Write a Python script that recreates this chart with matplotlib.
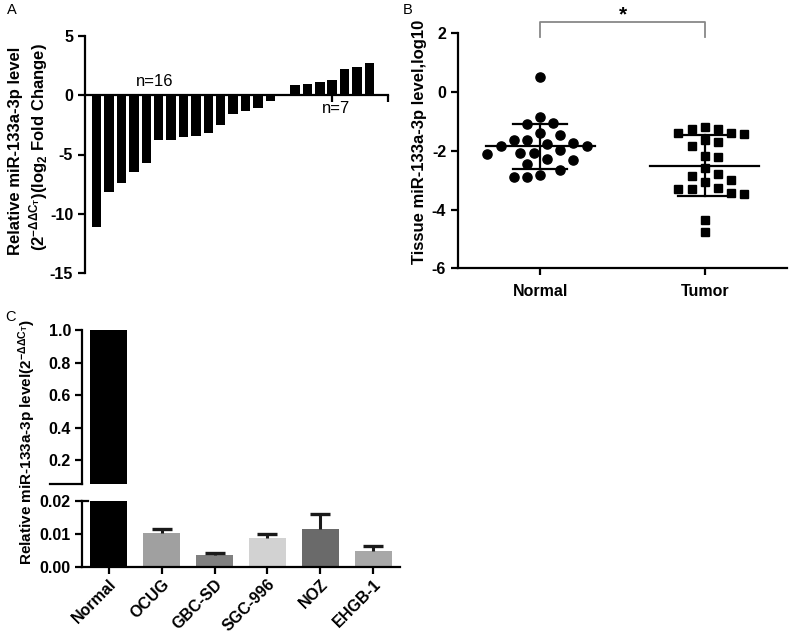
import numpy as np
import matplotlib
matplotlib.use("Agg")
import matplotlib.pyplot as plt

plt.rcParams['font.family'] = ['Liberation Sans', 'DejaVu Sans']
plt.rcParams['mathtext.fontset'] = 'custom'
plt.rcParams['mathtext.rm'] = 'Liberation Sans:bold'
plt.rcParams['mathtext.it'] = 'Liberation Sans:bold'
plt.rcParams['mathtext.bf'] = 'Liberation Sans:bold'
plt.rcParams['mathtext.default'] = 'rm'

# ---------------- data ----------------
# Panel A: log2 fold change per patient (sorted)
fold_change = [-11.1, -8.2, -7.4, -6.5, -5.7, -3.8, -3.8, -3.5, -3.4, -3.2,
               -2.5, -1.55, -1.3, -1.1, -0.5, -0.1,
               0.85, 0.95, 1.15, 1.25, 2.25, 2.4, 2.75]
a_yticks = [-15, -10, -5, 0, 5]

# Panel B: tissue levels (log10)
b_groups = ['Normal', 'Tumor']
normal_vals = [0.50, -0.86, -1.06, -1.09, -1.46, -1.38, -1.63, -1.63, -1.77, -1.83,
               -1.83, -1.72, -1.97, -2.06, -2.12, -2.06, -2.29, -2.33, -2.45, -2.65,
               -2.82, -2.90, -2.88]
tumor_vals = [-1.20, -1.27, -1.38, -1.43, -1.38, -1.25, -1.69, -1.63, -1.83, -2.17,
              -2.20, -2.60, -2.85, -2.79, -3.05, -3.01, -3.31, -3.44, -3.46, -3.31,
              -3.27, -4.35, -4.78]
b_yticks = [-6, -4, -2, 0, 2]

# Panel C: cell lines
c_labels = ['Normal', 'OCUG', 'GBC-SD', 'SGC-996', 'NOZ', 'EHGB-1']
c_values = [1.0, 0.0102, 0.0034, 0.0086, 0.0115, 0.0048]
c_errors = [0.0, 0.0011, 0.0008, 0.0013, 0.0045, 0.0016]
c_colors = ['#000000', '#a0a0a0', '#808080', '#d2d2d2', '#6a6a6a', '#a8a8a8']
c_upper_ticks = [0.2, 0.4, 0.6, 0.8, 1.0]
c_lower_ticks = [0.00, 0.01, 0.02]

W, H = 790, 635
fig = plt.figure(figsize=(W / 100, H / 100), dpi=100)


def rect(l, t, r, b):
    return [l / W, 1 - b / H, (r - l) / W, (b - t) / H]


def style(ax, fs=11.5, pad=3.5):
    for s in ['top', 'right']:
        ax.spines[s].set_visible(False)
    for s in ['left', 'bottom']:
        ax.spines[s].set_linewidth(1.6)
    ax.tick_params(width=1.6, length=5, labelsize=fs, direction='out', pad=pad)
    for lab in ax.get_yticklabels() + ax.get_xticklabels():
        lab.set_fontweight('bold')


LW = 1.6

# ---------------- Panel A ----------------
axA = fig.add_axes(rect(85, 36, 388, 273))
xa = np.arange(len(fold_change))
axA.bar(xa, fold_change, width=0.76, color='black')
axA.set_xlim(-0.94, 23.5)
axA.set_ylim(-15, 5)
axA.spines['bottom'].set_position(('data', 0))
axA.set_yticks(a_yticks)
axA.set_yticklabels([str(v) for v in a_yticks])
axA.set_xticks([19, 23.5])
axA.set_xticklabels(['', ''])
style(axA)
axA.text(4.7, 1.2, 'n=16', fontsize=12, ha='center', va='center')
axA.text(19.3, -1.1, 'n=7', fontsize=12, ha='center', va='center')
fig.text(16 / W, 1 - 151 / H, 'Relative miR-133a-3p level', rotation=90,
         ha='center', va='center', fontsize=12, fontweight='bold')
fig.text(39 / W, 1 - 147 / H, r'(2$^{-\Delta\Delta C_T}$)(log$_2$ Fold Change)', rotation=90,
         ha='center', va='center', fontsize=12, fontweight='bold')
fig.text(7 / W, 1 - 10 / H, 'A', fontsize=10.5, ha='left', va='center')

# ---------------- Panel B ----------------
axB = fig.add_axes(rect(458, 33.3, 787, 268.3))
axB.set_xlim(-0.5, 1.5)
axB.set_ylim(-6, 2)

XS, YS = 164.0, 29.4  # px per data unit


def swarm(vals, step=6.6, mind=12.5):
    vals = np.asarray(vals)
    order = np.argsort(-vals)
    placed = []
    offs = np.zeros(len(vals))
    cands = [0.0]
    for k in range(1, 20):
        cands += [k * step, -k * step]
    for i in order:
        y = vals[i] * YS
        for c in cands:
            if all((c - px) ** 2 + (y - py) ** 2 >= mind ** 2 for px, py in placed):
                break
        offs[i] = c
        placed.append((c, y))
    return offs / XS


for gi, (vals, mk, ms) in enumerate([(normal_vals, 'o', 6.6), (tumor_vals, 's', 6.0)]):
    offs = swarm(vals)
    axB.plot(gi + offs, vals, linestyle='none', marker=mk, ms=ms, color='black')
    m = np.mean(vals)
    sd = np.std(vals, ddof=1)
    axB.plot([gi - 0.33, gi + 0.33], [m, m], color='black', lw=LW)
    axB.plot([gi - 0.165, gi + 0.165], [m + sd, m + sd], color='black', lw=LW)
    axB.plot([gi - 0.165, gi + 0.165], [m - sd, m - sd], color='black', lw=LW)
    axB.plot([gi, gi], [m - sd, m + sd], color='black', lw=LW)

axB.set_yticks(b_yticks)
axB.set_yticklabels([str(v) for v in b_yticks])
axB.set_xticks([0, 1])
axB.set_xticklabels(b_groups)
style(axB)
axB.tick_params(axis='x', pad=6)
axB.plot([0, 0, 1, 1], [1.88, 2.39, 2.39, 1.88], color='#888888', lw=1.3, clip_on=False)
axB.text(0.5, 2.62, '*', fontsize=15, fontweight='bold', ha='center', va='center')
fig.text(420 / W, 1 - 142 / H, 'Tissue miR-133a-3p level,log10', rotation=90,
         ha='center', va='center', fontsize=12, fontweight='bold')
fig.text(403 / W, 1 - 10 / H, 'B', fontsize=10.5, ha='left', va='center')

# ---------------- Panel C ----------------
xc = np.arange(len(c_labels))
axCu = fig.add_axes(rect(82, 330, 400, 484))
axCl = fig.add_axes(rect(82, 500.7, 400, 566.7))
cap_half = 0.19
for ax in (axCu, axCl):
    ax.bar(xc, c_values, width=0.7, color=c_colors)
    tops = np.array(c_values[1:]) + np.array(c_errors[1:])
    ax.vlines(xc[1:], c_values[1:], tops, color='#1a1a1a', lw=2.2)
    ax.hlines(tops, xc[1:] - cap_half, xc[1:] + cap_half, color='#1a1a1a', lw=2.4)
    ax.set_xlim(-0.51, 5.51)

axCu.set_ylim(0.055, 1.0)
axCu.set_yticks(c_upper_ticks)
axCu.set_yticklabels(['%.1f' % v for v in c_upper_ticks])
axCu.set_xticks([])
style(axCu, fs=11.5, pad=3)
axCu.spines['bottom'].set_visible(False)
# break marks
axCu.plot([-0.1, 0.0], [0.055, 0.055], transform=axCu.get_yaxis_transform(),
          color='black', lw=LW, clip_on=False)

axCl.set_ylim(0, 0.02)
axCl.set_yticks(c_lower_ticks)
axCl.set_yticklabels(['%.2f' % v for v in c_lower_ticks])
axCl.set_xticks(xc)
axCl.set_xticklabels(c_labels, rotation=45, ha='right', rotation_mode='anchor')
style(axCl, fs=11.5, pad=3)
axCl.tick_params(axis='x', pad=2)
axCl.plot([0.0, 0.02], [0.02, 0.02], transform=axCl.get_yaxis_transform(),
          color='black', lw=LW, clip_on=False)

fig.text(27 / W, 1 - 442 / H, r'Relative miR-133a-3p level(2$^{-\Delta\Delta C_T}$)', rotation=90,
         ha='center', va='center', fontsize=11, fontweight='bold')
fig.text(5 / W, 1 - 317 / H, 'C', fontsize=10.5, ha='left', va='center')

fig.savefig('out.png', dpi=100)
